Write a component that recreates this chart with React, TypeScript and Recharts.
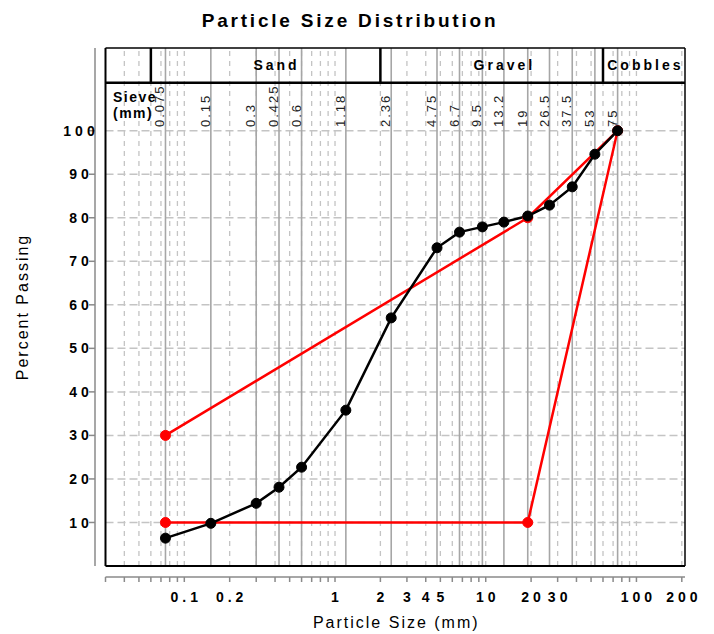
import React from 'react';
import { ComposedChart, Line, XAxis, YAxis, ReferenceLine, ReferenceDot } from 'recharts';

// ---- data ----
const sieveSizes = [0.075, 0.15, 0.3, 0.425, 0.6, 1.18, 2.36, 4.75, 6.7, 9.5, 13.2, 19, 26.5, 37.5, 53, 75];
const sieveLabels = ['0.075', '0.15', '0.3', '0.425', '0.6', '1.18', '2.36', '4.75', '6.7', '9.5', '13.2', '19', '26.5', '37.5', '53', '75'];
const percentPassing = [6.4, 9.8, 14.4, 18.1, 22.7, 35.8, 57.0, 73.1, 76.7, 77.9, 79.0, 80.4, 82.9, 87.1, 94.6, 100];

const envelopeSizes = [0.075, 19, 75, 19, 0.075];
const envelopePassing = [30, 80, 100, 10, 10];

const minorGridSizes = [
  0.04, 0.05, 0.06, 0.07, 0.08, 0.09,
  0.1, 0.2, 0.3, 0.4, 0.5, 0.6, 0.7, 0.8, 0.9,
  1, 2, 3, 4, 5, 6, 7, 8, 9,
  10, 20, 30, 40, 50, 60, 70, 80, 90,
  100, 200,
];
const xTicks = [0.03, ...minorGridSizes];
const xTickLabels = ['0.1', '0.2', '1', '2', '3', '4', '5', '10', '20', '30', '100', '200'];
const yTicks = [10, 20, 30, 40, 50, 60, 70, 80, 90, 100];

const soilClasses = ['Sand', 'Gravel', 'Cobbles'];
const classLabelSizes = [0.4, 13, 112];
const classBoundaries = [0.06, 2, 60];

const X_DOMAIN: [number, number] = [0.03, 210];
const Y_DOMAIN: [number, number] = [0, 119];
const HEADER_BOTTOM = 111;
const CLASS_LABEL_Y = 115;
const SIEVE_LABEL_Y = 100.85;

const FONT = '"Liberation Sans", Arial, Helvetica, sans-serif';

const gradingData = sieveSizes.map((s, i) => ({ size: s, passing: percentPassing[i] }));
const envelopeData = envelopeSizes.map((s, i) => ({ size: s, passing: envelopePassing[i] }));

function XTick(props: any) {
  const { x, y, payload } = props;
  const label = xTickLabels.find((l) => Number(l) === payload.value);
  if (!label) return <g />;
  return (
    <text x={x + 2} y={y + 18} textAnchor="middle" fontFamily={FONT} fontSize={14} fontWeight="bold" letterSpacing={4} fill="#000">
      {label}
    </text>
  );
}

function YTick(props: any) {
  const { x, y, payload } = props;
  return (
    <text x={x - 6} y={y} dy="0.36em" textAnchor="middle" fontFamily={FONT} fontSize={14} fontWeight="bold" letterSpacing={4} fill="#000">
      {payload.value}
    </text>
  );
}

function centerOf(p: any) {
  const vb = p.viewBox || {};
  const cx = (vb.x ?? 0) + (vb.width ?? 0) / 2;
  const cy = (vb.y ?? 0) + (vb.height ?? 0) / 2;
  return { cx, cy };
}

const sieveLabel = (text: string) => (p: any) => {
  const { cx, cy } = centerOf(p);
  return (
    <text
      transform={`translate(${cx - 1},${cy}) rotate(-90)`}
      textAnchor="start"
      fontFamily={FONT}
      fontSize={13}
      letterSpacing={2}
      fill="#222"
    >
      {text}
    </text>
  );
};

const classLabel = (text: string) => (p: any) => {
  const { cx, cy } = centerOf(p);
  return (
    <text x={cx + 1.5} y={cy} dy="0.36em" textAnchor="middle" fontFamily={FONT} fontSize={14} fontWeight="bold" letterSpacing={3} fill="#000">
      {text}
    </text>
  );
};

const xTitle = (p: any) => {
  const vb = p.viewBox || {};
  return (
    <text x={vb.x + vb.width / 2 + 1} y={vb.y + 51} textAnchor="middle" fontFamily={FONT} fontSize={16} letterSpacing={2} fill="#000">
      Particle Size (mm)
    </text>
  );
};

const yTitle = (p: any) => {
  const vb = p.viewBox || {};
  const cy = vb.y + vb.height / 2;
  return (
    <text transform={`translate(${vb.x + 20},${cy}) rotate(-90)`} textAnchor="middle" fontFamily={FONT} fontSize={16} letterSpacing={2} fill="#000">
      Percent Passing
    </text>
  );
};

export default function App() {
  const ids = { xAxisId: 'main', yAxisId: 'main' } as const;
  return (
    <div style={{ position: 'relative', width: 706, height: 626 }}>
      <ComposedChart width={706} height={626} data={gradingData} margin={{ top: 40, right: 29, bottom: 0, left: 0 }}>
        <XAxis xAxisId="main" dataKey="size" type="number" scale="log" domain={X_DOMAIN} allowDataOverflow
          height={11} tick={false} tickLine={false} axisLine={false} />
        <XAxis xAxisId="ticks" dataKey="size" type="number" scale="log" domain={X_DOMAIN} allowDataOverflow
          ticks={xTicks} interval={0} height={57} tick={<XTick />} tickSize={5}
          tickLine={{ stroke: '#8a8a8a', strokeWidth: 1.5 }} axisLine={{ stroke: '#8a8a8a', strokeWidth: 1.5 }}
          label={xTitle} />
        <YAxis yAxisId="main" type="number" domain={Y_DOMAIN} allowDataOverflow
          width={10.5} tick={false} tickLine={false} axisLine={false} />
        <YAxis yAxisId="ticks" type="number" domain={Y_DOMAIN} allowDataOverflow
          ticks={yTicks} interval={0} width={87} tick={<YTick />} tickSize={6}
          tickLine={{ stroke: '#8a8a8a', strokeWidth: 1.5 }} axisLine={{ stroke: '#8a8a8a', strokeWidth: 1.5 }}
          label={yTitle} />

        {/* dashed grid */}
        {minorGridSizes.map((v) => (
          <ReferenceLine key={`mg${v}`} {...ids} x={v} stroke="#c4c4c4" strokeWidth={1.3} strokeDasharray="5 5" ifOverflow="visible" />
        ))}
        {yTicks.map((v) => (
          <ReferenceLine key={`hg${v}`} {...ids} y={v} stroke="#c4c4c4" strokeWidth={1.5} strokeDasharray="8 4" ifOverflow="visible" />
        ))}
        {/* sieve lines */}
        {sieveSizes.map((s) => (
          <ReferenceLine key={`sv${s}`} {...ids} x={s} stroke="#a6a6a6" strokeWidth={1.6} ifOverflow="visible" />
        ))}
        {sieveSizes.map((s, i) => (
          <ReferenceDot key={`sl${s}`} {...ids} x={s} y={SIEVE_LABEL_Y} r={0} fill="none" stroke="none" ifOverflow="visible"
            label={sieveLabel(sieveLabels[i])} />
        ))}

        {/* frame & header */}
        <ReferenceLine {...ids} y={Y_DOMAIN[0]} stroke="#000" strokeWidth={2} ifOverflow="visible" />
        <ReferenceLine {...ids} y={Y_DOMAIN[1]} stroke="#000" strokeWidth={1.5} ifOverflow="visible" />
        <ReferenceLine {...ids} x={X_DOMAIN[0]} stroke="#000" strokeWidth={2} ifOverflow="visible" />
        <ReferenceLine {...ids} x={X_DOMAIN[1]} stroke="#000" strokeWidth={1.5} ifOverflow="visible" />
        <ReferenceLine {...ids} y={HEADER_BOTTOM} stroke="#000" strokeWidth={2.5} ifOverflow="visible" />
        {classBoundaries.map((b) => (
          <ReferenceLine key={`cb${b}`} {...ids} segment={[{ x: b, y: HEADER_BOTTOM }, { x: b, y: Y_DOMAIN[1] }]}
            stroke="#000" strokeWidth={2.5} ifOverflow="visible" />
        ))}
        {soilClasses.map((c, i) => (
          <ReferenceDot key={`cl${c}`} {...ids} x={classLabelSizes[i]} y={CLASS_LABEL_Y} r={0} fill="none" stroke="none"
            ifOverflow="visible" label={classLabel(c)} />
        ))}

        {/* series */}
        <Line {...ids} data={envelopeData} dataKey="passing" type="linear" stroke="#ff0000" strokeWidth={2.5}
          dot={{ r: 5, fill: '#ff0000', stroke: '#ff0000', strokeWidth: 1 }} isAnimationActive={false} />
        <Line {...ids} dataKey="passing" type="linear" stroke="#000" strokeWidth={2.5}
          dot={{ r: 5, fill: '#000', stroke: '#000', strokeWidth: 1 }} isAnimationActive={false} />
      </ComposedChart>
      <svg width={706} height={626} style={{ position: 'absolute', left: 0, top: 0, pointerEvents: 'none' }}>
        <text x={342} y={19} textAnchor="middle" fontFamily={FONT} fontSize={19} fontWeight="bold" letterSpacing={2.8} fill="#000">
          Particle Size Distribution
        </text>
        <text x={105} y={94} fontFamily={FONT} fontSize={14} fontWeight="bold" letterSpacing={1.5} fill="#000">Sieve</text>
        <text x={105} y={110} fontFamily={FONT} fontSize={14} fontWeight="bold" letterSpacing={1.5} fill="#000">(mm)</text>
      </svg>
    </div>
  );
}
